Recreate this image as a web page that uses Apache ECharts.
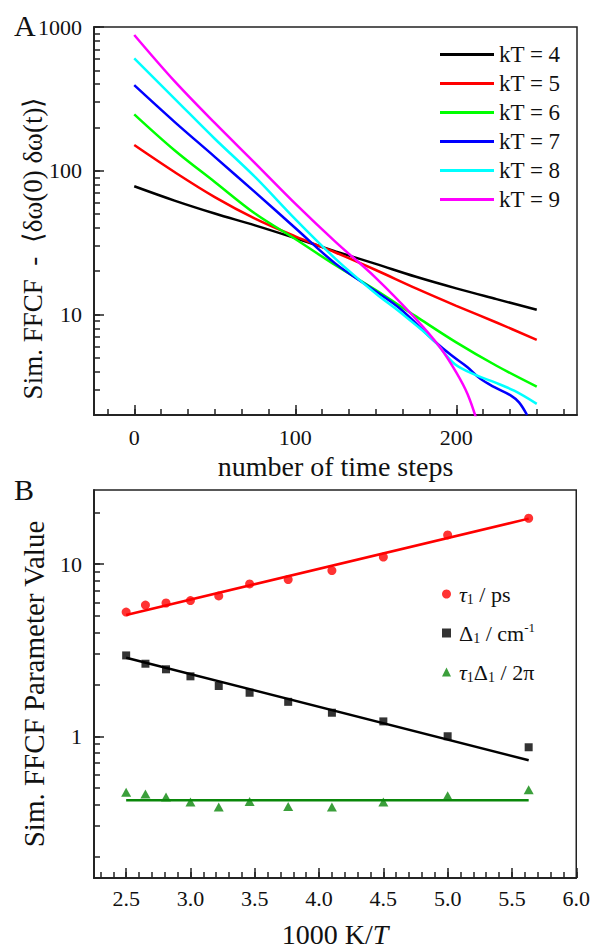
<!DOCTYPE html>
<html>
<head>
<meta charset="utf-8">
<script src="https://cdn.jsdelivr.net/npm/echarts@6/dist/echarts.min.js"></script>
<style>
  html, body { margin: 0; padding: 0; background: #fff; }
  #chart { width: 593px; height: 949px; }
</style>
</head>
<body>
<div id="chart"></div>
<script>
// panel A: simulated FFCF for each kT
const kTNames = ['kT = 4', 'kT = 5', 'kT = 6', 'kT = 7', 'kT = 8', 'kT = 9'];
const kTColors = ['#000000', '#ff0000', '#00ff00', '#0000ff', '#00ffff', '#ff00ff'];
const steps = [0, 25, 50, 75, 100, 125, 150, 175, 200, 225, 250];
const kT4 = [78, 62, 50.4, 41.7, 34, 27.5, 22.5, 18.3, 15.2, 12.8, 10.8];
const kT5 = [151, 98, 65.6, 46.5, 35, 27, 20.4, 15.2, 11.5, 8.8, 6.67];
const kT6 = [247, 139, 83.6, 50.4, 33.5, 22, 14.8, 9.7, 6.4, 4.4, 3.15];
const stepsKT7 = [0, 25, 50, 75, 100, 125, 150, 165, 186, 197, 207, 215, 224, 234, 239, 244];
const kT7 = [394, 219, 125, 71, 40, 22.6, 14.5, 11, 6.6, 5.2, 4.3, 3.57, 3.11, 2.73, 2.45, 2.0];
const stepsKT8 = [0, 25, 50, 75, 100, 125, 150, 165, 186, 199, 213, 224, 236, 250];
const kT8 = [605, 318, 167, 90.5, 46, 24.4, 14, 10.4, 6.6, 4.53, 3.76, 3.37, 2.95, 2.39];
const stepsKT9 = [0, 25, 50, 75, 100, 125, 150, 175, 190, 200, 207, 213];
const kT9 = [880, 420, 215, 113, 59, 32, 18, 9.3, 5.9, 3.96, 2.8, 1.8];

const stepLabels = [0, 100, 200];
const stepMinor = [-16.67, 16.67, 33.33, 50, 66.67, 83.33, 116.67, 133.33, 150, 166.67, 183.33, 216.67, 233.33, 250, 266.67];
const ffcfLabels = [10, 100, 1000];
const ffcfMinor = [3, 4, 5, 6, 7, 8, 9, 20, 30, 40, 50, 60, 70, 80, 90, 200, 300, 400, 500, 600, 700, 800, 900];

// panel B: fit parameters vs 1000 K/T
const invT = [2.50, 2.65, 2.81, 3.00, 3.22, 3.46, 3.76, 4.10, 4.50, 5.00, 5.63];
const tau1 = [5.27, 5.79, 5.95, 6.15, 6.54, 7.68, 8.15, 9.19, 11.0, 14.8, 18.5];
const delta1 = [2.95, 2.64, 2.45, 2.23, 1.96, 1.79, 1.585, 1.37, 1.22, 1.0, 0.863];
const tauDelta = [0.472, 0.462, 0.443, 0.415, 0.388, 0.418, 0.391, 0.388, 0.415, 0.451, 0.489];
const fitX = [2.50, 5.63];
const tau1Fit = [5.07, 18.4];
const delta1Fit = [2.86, 0.725];
const tauDeltaFit = [0.424, 0.424];

const invTLabels = [2.5, 3.0, 3.5, 4.0, 4.5, 5.0, 5.5, 6.0];
const invTMinor = [2.3, 2.4, 2.6, 2.7, 2.8, 2.9, 3.1, 3.2, 3.3, 3.4, 3.6, 3.7, 3.8, 3.9, 4.1, 4.2, 4.3, 4.4,
  4.6, 4.7, 4.8, 4.9, 5.1, 5.2, 5.3, 5.4, 5.6, 5.7, 5.8, 5.9];
const paramLabels = [1, 10];
const paramMinor = [0.2, 0.3, 0.4, 0.5, 0.6, 0.7, 0.8, 0.9, 2, 3, 4, 5, 6, 7, 8, 9, 20];

const FONT = 'Liberation Serif, Times New Roman, serif';
const INK = '#222';
const zip = (xs, ys) => xs.map((x, i) => [x, ys[i]]);

const myChart = echarts.init(document.getElementById('chart'), null, { renderer: 'svg' });

// main axis: line, labels, short ticks at every position
function mainAxis(gridIndex, type, min, max, labels, minor, extra) {
  return Object.assign({
    type: type, gridIndex: gridIndex, min: min, max: max,
    axisLine: { show: true, onZero: false, lineStyle: { color: INK, width: 1.5 } },
    axisTick: { show: true, inside: true, length: 6, customValues: labels.concat(minor), lineStyle: { color: INK, width: 1.5 } },
    axisLabel: { customValues: labels, fontFamily: FONT, fontSize: 22, color: '#111' },
    splitLine: { show: false },
    nameTextStyle: { fontFamily: FONT, fontSize: 28, color: '#111' }
  }, extra);
}
// overlay axis: longer ticks at labelled positions
function majorAxis(gridIndex, type, min, max, labels, position) {
  return {
    type: type, gridIndex: gridIndex, min: min, max: max, position: position,
    axisLine: { show: true, onZero: false, lineStyle: { color: INK, width: 1.5 } },
    axisTick: { show: true, inside: true, length: 10, customValues: labels, lineStyle: { color: INK, width: 1.5 } },
    axisLabel: { show: false, customValues: labels },
    splitLine: { show: false }
  };
}

const kTSteps = [steps, steps, steps, stepsKT7, stepsKT8, stepsKT9];
const kTValues = [kT4, kT5, kT6, kT7, kT8, kT9];
const ffcfSeries = kTNames.map((name, i) => ({
  name: name, type: 'line', xAxisIndex: 0, yAxisIndex: 0,
  data: zip(kTSteps[i], kTValues[i]),
  smooth: 0.35, symbol: 'none', clip: true,
  lineStyle: { color: kTColors[i], width: 2.5 },
  itemStyle: { color: kTColors[i] }
}));

const GREEN = '#0a870a';
const paramSeries = [
  { name: 'tau', type: 'scatter', xAxisIndex: 2, yAxisIndex: 2, data: zip(invT, tau1),
    symbol: 'circle', symbolSize: 9, itemStyle: { color: '#ff0000' } },
  { name: 'delta', type: 'scatter', xAxisIndex: 2, yAxisIndex: 2, data: zip(invT, delta1),
    symbol: 'rect', symbolSize: 8, itemStyle: { color: '#000000' } },
  { name: 'product', type: 'scatter', xAxisIndex: 2, yAxisIndex: 2, data: zip(invT, tauDelta),
    symbol: 'triangle', symbolSize: [10, 9], itemStyle: { color: GREEN } },
  { name: 'tauFit', type: 'line', xAxisIndex: 2, yAxisIndex: 2, data: zip(fitX, tau1Fit),
    symbol: 'none', lineStyle: { color: '#ff0000', width: 2.5 } },
  { name: 'deltaFit', type: 'line', xAxisIndex: 2, yAxisIndex: 2, data: zip(fitX, delta1Fit),
    symbol: 'none', lineStyle: { color: '#000000', width: 2.5 } },
  { name: 'productFit', type: 'line', xAxisIndex: 2, yAxisIndex: 2, data: zip(fitX, tauDeltaFit),
    symbol: 'none', lineStyle: { color: GREEN, width: 2.5 } }
];

const paramLegend = {
  tau: '{g|τ}{s|1} / ps',
  delta: 'Δ{s|1} / cm{p|-1}',
  product: '{g|τ}{s|1}Δ{s|1} / 2π'
};

let option = {
  backgroundColor: '#fff',
  animation: false,
  grid: [
    { left: 94, top: 27, width: 483, height: 388, show: true, borderColor: INK, borderWidth: 1.5, backgroundColor: 'transparent' },
    { left: 94, top: 490, width: 483, height: 388, show: true, borderColor: INK, borderWidth: 1.5, backgroundColor: 'transparent' }
  ],
  xAxis: [
    mainAxis(0, 'value', -25, 275, stepLabels, stepMinor, {
      position: 'bottom', name: 'number of time steps', nameLocation: 'middle', nameGap: 37,
      axisLabel: { customValues: stepLabels, fontFamily: FONT, fontSize: 22, color: '#111', margin: 11 }
    }),
    majorAxis(0, 'value', -25, 275, stepLabels, 'bottom'),
    mainAxis(1, 'value', 2.25, 6.0, invTLabels, invTMinor, {
      position: 'bottom', name: '1000 K/{i|T}', nameLocation: 'middle', nameGap: 42,
      nameTextStyle: { fontFamily: FONT, fontSize: 28, color: '#111', rich: { i: { fontStyle: 'italic', fontFamily: FONT, fontSize: 28, color: '#111' } } },
      axisLabel: { customValues: invTLabels, fontFamily: FONT, fontSize: 22, color: '#111', margin: 9,
        formatter: v => v.toFixed(1) }
    }),
    majorAxis(1, 'value', 2.25, 6.0, invTLabels, 'bottom')
  ],
  yAxis: [
    mainAxis(0, 'log', 2, 1000, ffcfLabels, ffcfMinor, {
      logBase: 10, position: 'left',
      axisLabel: { customValues: ffcfLabels, fontFamily: FONT, fontSize: 22, color: '#111', margin: 12,
        formatter: v => String(Math.round(v)) }
    }),
    majorAxis(0, 'log', 2, 1000, ffcfLabels, 'left'),
    mainAxis(1, 'log', 0.15, 27, paramLabels, paramMinor, {
      logBase: 10, position: 'left',
      name: 'Sim. FFCF Parameter Value', nameLocation: 'middle', nameGap: 46,
      nameTextStyle: { fontFamily: FONT, fontSize: 29, color: '#111' },
      axisLabel: { customValues: paramLabels, fontFamily: FONT, fontSize: 22, color: '#111', margin: 12,
        formatter: v => String(Math.round(v)) }
    }),
    majorAxis(1, 'log', 0.15, 27, paramLabels, 'left')
  ],
  legend: [
    {
      data: kTNames, orient: 'vertical', left: 435, top: 38,
      icon: 'rect', itemWidth: 54, itemHeight: 3, itemGap: 6,
      textStyle: { fontFamily: FONT, fontSize: 23, lineHeight: 23, color: '#111' }
    },
    {
      data: [{ name: 'tau', icon: 'circle' }, { name: 'delta', icon: 'rect' }, { name: 'product', icon: 'triangle' }],
      orient: 'vertical', left: 437, top: 577,
      itemWidth: 9, itemHeight: 9, itemGap: 15,
      formatter: name => paramLegend[name],
      textStyle: {
        fontFamily: FONT, fontSize: 22, lineHeight: 24, color: '#111', padding: [0, 0, 0, 3],
        rich: {
          g: { fontFamily: FONT, fontSize: 22, fontStyle: 'italic', lineHeight: 24, color: '#111' },
          s: { fontFamily: FONT, fontSize: 14, lineHeight: 13, verticalAlign: 'bottom', color: '#111' },
          p: { fontFamily: FONT, fontSize: 13, lineHeight: 12, verticalAlign: 'top', color: '#111' }
        }
      }
    }
  ],
  graphic: [
    { type: 'text', left: 14, top: 10, style: { text: 'A', font: '30px ' + FONT, fill: '#111' } },
    { type: 'text', left: 14, top: 474, style: { text: 'B', font: '30px ' + FONT, fill: '#111' } },
    { type: 'text', x: 33, y: 248, rotation: Math.PI / 2,
      style: { text: 'Sim. FFCF  -  ⟨δω(0) δω(t)⟩', font: '27px ' + FONT, fill: '#111', align: 'center', verticalAlign: 'middle' } }
  ],
  series: ffcfSeries.concat(paramSeries)
};

myChart.setOption(option);
</script>
</body>
</html>
